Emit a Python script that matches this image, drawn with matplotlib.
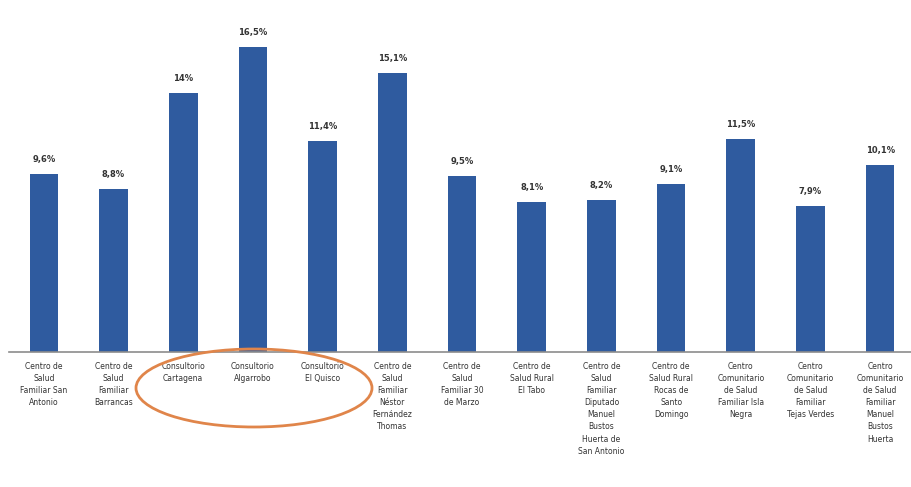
import matplotlib.pyplot as plt
from matplotlib.patches import Ellipse

centros = [
    "Centro de\nSalud\nFamiliar San\nAntonio",
    "Centro de\nSalud\nFamiliar\nBarrancas",
    "Consultorio\nCartagena",
    "Consultorio\nAlgarrobo",
    "Consultorio\nEl Quisco",
    "Centro de\nSalud\nFamiliar\nNéstor\nFernández\nThomas",
    "Centro de\nSalud\nFamiliar 30\nde Marzo",
    "Centro de\nSalud Rural\nEl Tabo",
    "Centro de\nSalud\nFamiliar\nDiputado\nManuel\nBustos\nHuerta de\nSan Antonio",
    "Centro de\nSalud Rural\nRocas de\nSanto\nDomingo",
    "Centro\nComunitario\nde Salud\nFamiliar Isla\nNegra",
    "Centro\nComunitario\nde Salud\nFamiliar\nTejas Verdes",
    "Centro\nComunitario\nde Salud\nFamiliar\nManuel\nBustos\nHuerta",
]
valores = [9.6, 8.8, 14, 16.5, 11.4, 15.1, 9.5, 8.1, 8.2, 9.1, 11.5, 7.9, 10.1]
etiquetas = ["9,6%", "8,8%", "14%", "16,5%", "11,4%", "15,1%", "9,5%",
             "8,1%", "8,2%", "9,1%", "11,5%", "7,9%", "10,1%"]

fig = plt.figure(figsize=(9.11, 4.87), dpi=100)
ax = fig.add_axes([9 / 911, (487 - 352) / 487, 906 / 911, 320 / 487])

x = range(len(valores))
bars = ax.bar(x, valores, width=0.41, color="#2F5B9F")
for b, t in zip(bars, etiquetas):
    ax.text(b.get_x() + b.get_width() / 2, b.get_height() + 0.55, t,
            ha="center", va="bottom", fontsize=6, fontweight="bold", color="#333333")

ax.set_xlim(-0.5, 12.5)
ax.set_ylim(0, 17.3)
ax.set_yticks([])
ax.set_xticks(list(x))
ax.set_xticklabels(centros, fontsize=5.5, color="#333333", linespacing=1.45)
ax.tick_params(axis="x", length=0, pad=7)
for s in ["top", "right", "left"]:
    ax.spines[s].set_visible(False)
ax.spines["bottom"].set_color("#8c8c8c")
ax.spines["bottom"].set_linewidth(1.2)

# elipse naranja resaltando los consultorios
elipse = Ellipse((254 / 911, 1 - 388 / 487), 236 / 911, 78 / 487,
                 transform=fig.transFigure, fill=False,
                 edgecolor="#E0854A", linewidth=2)
fig.patches.append(elipse)

fig.savefig("out.png", dpi=100)
